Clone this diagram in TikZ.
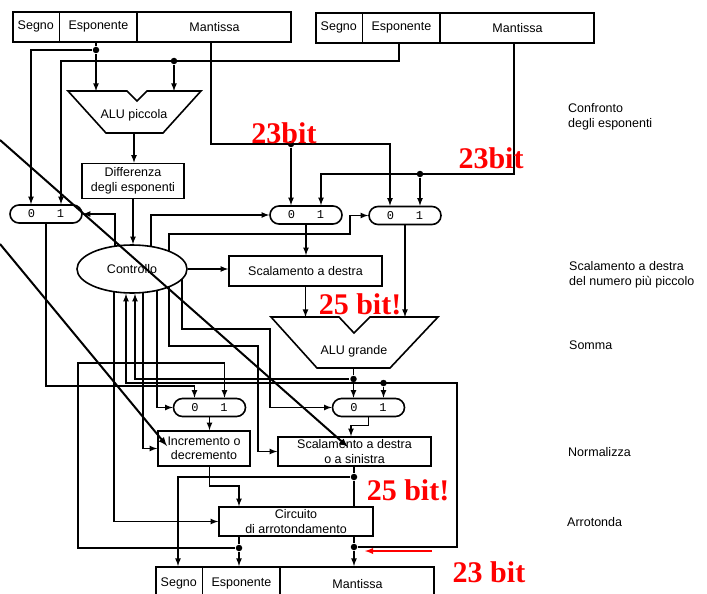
\documentclass[tikz,border=0pt]{standalone}
\usepackage{fontspec}
\setmainfont{Liberation Sans}
\setmonofont{Liberation Mono}
\newfontfamily\bitfont{Liberation Serif}
\usetikzlibrary{shapes,
                arrows,
                positioning,
                backgrounds}
\tikzset{register/.style =
   {rectangle split,
    rectangle split parts=3,
    rectangle split horizontal,
    draw,
    inner xsep=0pt,
    text centered,
    minimum height=30pt}}
\tikzset{block/.style =
   {rectangle,
    draw,
    fill=white,
    align=center,
    inner sep=0pt}}
\tikzset{mux/.style =
   {rectangle,
    draw,
    rounded corners=9pt,
    minimum width=72pt,
    minimum height=18pt,
    inner sep=0pt,
    font=\ttfamily\fontsize{12}{12}\selectfont}}
\tikzset{control/.style =
   {ellipse,
    draw,
    fill=white,
    minimum width=110pt,
    minimum height=48pt,
    inner sep=0pt}}
\tikzset{arrow/.style = {draw, line width=1.6pt, -latex}}
\tikzset{joint/.style = {circle, fill, inner sep=0pt, minimum size=6.5pt}}
\tikzset{bits/.style =
   {text=red,
    inner sep=0pt,
    font=\bitfont\bfseries\fontsize{30}{30}\selectfont}}
\tikzset{phase/.style =
   {anchor=west,
    align=left,
    inner sep=0pt}}
\tikzset{strike/.style = {draw, line width=2pt, -latex}}

\begin{document}
\begin{tikzpicture}[x=1pt, y=-1pt,
                    font=\fontsize{12.5}{14.5}\selectfont]
    \useasboundingbox (0,0) rectangle (707,594);
    \clip (0,0) rectangle (707,594);
    \begin{scope}[line width=1.6pt]

    % registri
    \node [register, anchor=north west] (regA) at (12,11)
    {\nodepart{one}   {\makebox[46pt]{Segno}}
     \nodepart{two}   {\makebox[76pt]{Esponente}}
     \nodepart{three} {\makebox[153pt]{Mantissa}}};
    \node [register, anchor=north west] (regB) at (315,12)
    {\nodepart{one}   {\makebox[46pt]{Segno}}
     \nodepart{two}   {\makebox[76pt]{Esponente}}
     \nodepart{three} {\makebox[153pt]{Mantissa}}};
    \node [register, anchor=north west, minimum height=34pt] (regC) at (155,566)
    {\nodepart{one}   {\makebox[46pt]{Segno}}
     \nodepart{two}   {\makebox[76pt]{Esponente}}
     \nodepart{three} {\makebox[153pt]{Mantissa}}};
    \coordinate (regA-esp) at ([xshift=84pt]regA.south west);
    \coordinate (regA-man) at ([xshift=199pt]regA.south west);
    \coordinate (regB-esp) at ([xshift=84pt]regB.south west);
    \coordinate (regB-man) at ([xshift=199pt]regB.south west);
    \coordinate (regC-seg) at ([xshift=23pt]regC.north west);
    \coordinate (regC-esp) at ([xshift=84pt]regC.north west);
    \coordinate (regC-man) at ([xshift=199pt]regC.north west);

    % multiplexer
    \node [mux] (mL) at (46,214)      {0\hspace{22pt}1};
    \node [mux] (mA) at (306,215)     {0\hspace{22pt}1};
    \node [mux] (mB) at (405,215.5)   {0\hspace{22pt}1};
    \node [mux] (mC) at (368.5,407.5) {0\hspace{22pt}1};
    \node [mux] (mD) at (209.5,407.5) {0\hspace{22pt}1};
    \foreach \m in {mL,mA,mB,mC,mD} {
        \coordinate (\m-0) at ([xshift=-15pt]\m.north);
        \coordinate (\m-1) at ([xshift=15pt]\m.north);
    }

    % ALU
    \draw (68,91) -- (127,91) -- (137,101) -- (147,91) -- (201,91)
          -- (163,133) -- (106,133) -- cycle;
    \node (aluP) at (134,115) {ALU piccola};
    \coordinate (aluP-a) at (96,91);
    \coordinate (aluP-b) at (174,91);
    \coordinate (aluP-out) at (134,133);
    \draw (271,317) -- (339,317) -- (354,333) -- (370,317) -- (438,317)
          -- (390,368) -- (317,368) -- cycle;
    \node (aluG) at (354,351) {ALU grande};

    \node [block, minimum width=102pt, minimum height=35pt] (diff) at (133,181)
        {Differenza\\degli esponenti};
    \node [control] (ctrl) at (132,269) {Controllo};
    \node [block, minimum width=153pt, minimum height=30pt] (scR) at (305.5,271)
        {Scalamento a destra};
    \node [block, minimum width=92pt, minimum height=35pt] (inc) at (204,448.5)
        {Incremento o\\decremento};
    \node [block, minimum width=153pt, minimum height=29pt] (scLR) at (354.5,451.5)
        {Scalamento a destra\\o a sinistra};
    \node [block, minimum width=154pt, minimum height=29pt] (rnd) at (296,521.5)
        {Circuito\\di arrotondamento};
    \coordinate (aluG-a) at (scR.south |- 0,317);
    \coordinate (aluG-b) at (mB.south |- 0,317);

    % giunzioni
    \node [joint] (d1) at (regA-esp |- 0,50) {};
    \node [joint] (d2) at (174,61) {};
    \node [joint] (d3) at (mA-0 |- 0,144) {};
    \node [joint] (d4) at (mB-1 |- 0,174) {};
    \node [joint] (d5) at (mC-0 |- 0,379) {};
    \node [joint] (d6) at (mC-1 |- 0,383) {};
    \node [joint] (d7) at (regC-man |- 0,547) {};
    \node [joint] (d8) at (regC-esp |- 0,548) {};
    \node [joint] (d9) at (regC-man |- 0,477) {};
    \coordinate (aluG-out) at (d5 |- 0,368);

    % collegamenti
    \draw (regA-esp) -- (d1);
    \draw [arrow] (d1) -- (aluP-a);
    \draw [arrow] (d1) -| (mL-0);
    \draw [arrow] (regB-esp) |- (mL-1 |- d2) -- (mL-1);
    \draw [arrow] (d2) -- (aluP-b);
    \draw [arrow] (regA-man) |- (mB-0 |- d3) -- (mB-0);
    \draw [arrow] (d3) -- (mA-0);
    \draw [arrow] (regB-man) |- (mA-1 |- d4) -- (mA-1);
    \draw [arrow] (d4) -- (mB-1);
    \draw [arrow] (aluP-out) -- (aluP-out |- diff.north);
    \draw [arrow] (diff.south) -- (diff.south |- ctrl.north);
    \draw [arrow] (ctrl.east) -- (ctrl.east -| scR.west);
    \draw [arrow] (mA.south) -- (mA.south |- scR.north);
    \draw [arrow] (scR.south) -- (aluG-a);
    \draw [arrow] (mB.south) -- (aluG-b);
    \draw (aluG-out) -- (d5);
    \draw [arrow] (d5) -- (mC-0);
    \draw [arrow] (d5) -| (135,0 |- ctrl.south);
    \draw [arrow] (d7) -| (457,383) -| (126,0 |- ctrl.south);
    \draw [arrow] (d6) -- (mC-1);
    \draw [arrow] (mC.south) -- ++(0,8) -| (351,0 |- scLR.north);
    \draw (scLR.south -| d9) -- (d9) -- (d9 |- rnd.north);
    \draw [arrow] (d9) -| (regC-seg);
    \draw [arrow] (mD.south) -- (mD.south |- inc.north);
    \draw [arrow] (mD.south |- inc.south) |- (regC-esp |- 0,486)
                  -- (regC-esp |- rnd.north);
    \draw (regC-esp |- rnd.south) -- (d8);
    \draw [arrow] (d8) -- (regC-esp);
    \draw (regC-man |- rnd.south) -- (d7);
    \draw [arrow] (d7) -- (regC-man);
    \draw [arrow] (d8) -| (78,363) -| (mD-1);
    \draw [arrow] (mL.south) |- (mD-0 |- 0,386) -- (mD-0);

    \begin{pgfonlayer}{background}
        \draw [arrow] (ctrl.center -| 115,0) |- (mL.east);
        \draw [arrow] (ctrl.center -| 151,0) |- (mA.west);
        \draw [arrow] (ctrl.center -| 169,0) |- (350,234) |- (mB.west);
        \draw [arrow] (ctrl.center -| 114,0) |- (rnd.west);
        \draw [arrow] (ctrl.center -| 143,0) |- (inc.west);
        \draw [arrow] (ctrl.center -| 157,0) |- (mD.west);
        \draw [arrow] (ctrl.center -| 169,0) |- (258,346) |- (scLR.west);
        \draw [arrow] (ctrl.center -| 182,0) |- (270,329) |- (mC.west);
    \end{pgfonlayer}

    % fasi
    \node [phase] (ph1) at (568,117) {Confronto\\degli esponenti};
    \node [phase] (ph2) at (569,275) {Scalamento a destra\\del numero più piccolo};
    \node [phase] (ph3) at (569,345) {Somma};
    \node [phase] (ph4) at (568,452) {Normalizza};
    \node [phase] (ph5) at (567,522) {Arrotonda};

    % annotazioni
    \node [bits] (b1) at (284,133) {23bit};
    \node [bits] (b2) at (491,158) {23bit};
    \node [bits] (b3) at (360,304) {25 bit!};
    \node [bits] (b4) at (408,490) {25 bit!};
    \node [bits] (b5) at (489,572) {23 bit};
    \coordinate (r0) at (432,551);
    \draw [-latex, red, line width=1.8pt] (r0) -- (r0 -| 365,0);
    \coordinate (s1) at (0,140);
    \coordinate (t1) at (348,447);
    \coordinate (s2) at (0,244);
    \coordinate (t2) at (167,446);
    \draw [strike] (s1) -- (t1);
    \draw [strike] (s2) -- (t2);
    \end{scope}
\end{tikzpicture}
\end{document}
